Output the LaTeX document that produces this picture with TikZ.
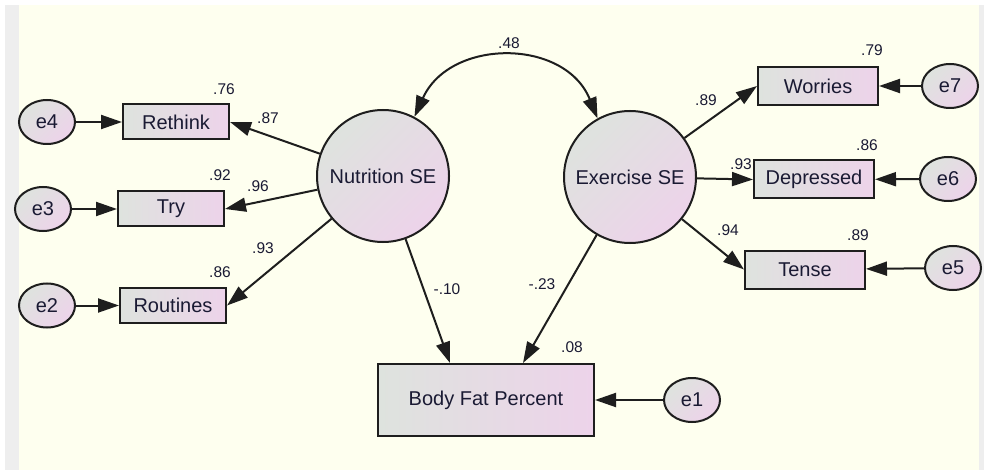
\documentclass[tikz,border=0pt]{standalone}
\usepackage{fontspec}
\setmainfont{Liberation Sans}
\usetikzlibrary{arrows.meta,shapes.geometric}

\definecolor{canvas}{HTML}{FEFFEF}
\definecolor{rim}{HTML}{EEEEEE}
\definecolor{shadeA}{HTML}{DEE3DE}
\definecolor{shadeB}{HTML}{EDD3EA}
\definecolor{ink}{HTML}{1A1A33}
\definecolor{edge}{HTML}{1E1E1E}

\tikzset{
  nodefont/.style={font=\fontsize{20}{24}\selectfont, text=ink},
  obs/.style={rectangle, draw=edge, line width=2pt, left color=shadeA,
    right color=shadeB, inner sep=0pt, nodefont},
  lat/.style={circle, draw=edge, line width=2pt, top color=shadeA,
    bottom color=shadeB, shading angle=45, minimum size=132pt,
    inner sep=0pt, nodefont},
  err/.style={ellipse, draw=edge, line width=2pt, top color=shadeA,
    bottom color=shadeB, shading angle=45, minimum width=56pt,
    minimum height=44pt, inner sep=0pt, nodefont},
  coef/.style={font=\fontsize{15.5}{18}\selectfont, text=ink, inner sep=0pt},
  tip/.tip={Triangle[length=21pt,width=14pt]},
  regr/.style={line width=2pt, draw=edge, -tip},
}

\begin{document}
\begin{tikzpicture}[x=1pt,y=-1pt]
  % page frame
  \fill[white] (0,0) rectangle (984,470);
  \fill[rim] (5,5) rectangle (19,470);
  \fill[rim] (979,5) rectangle (984,470);
  \fill[canvas] (19,5) rectangle (979,470);
  \useasboundingbox (0,0) rectangle (984,470);

  % latent factors
  \node[lat] (nut) at (383,176) {Nutrition SE};
  \node[lat] (exe) at (630,177) {Exercise SE};

  % indicators
  \node[obs, minimum width=106pt, minimum height=35pt] (reth) at (176,122) {Rethink};
  \node[obs, minimum width=106pt, minimum height=35pt] (try) at (171,209) {Try};
  \node[obs, minimum width=106pt, minimum height=35pt] (rout) at (173,305.5) {Routines};
  \node[obs, minimum width=120pt, minimum height=38pt] (worr) at (818,86) {Worries};
  \node[obs, minimum width=120pt, minimum height=38pt] (dep) at (814,179.5) {Depressed};
  \node[obs, minimum width=120pt, minimum height=38pt] (tense) at (805,269.5) {Tense};

  % outcome
  \node[obs, minimum width=216pt, minimum height=72pt] (bfp) at (486,400) {Body Fat Percent};

  % error terms
  \node[err] (e4) at (47,122) {e4};
  \node[err] (e3) at (43,209) {e3};
  \node[err] (e2) at (47,305.5) {e2};
  \node[err] (e7) at (950,86) {e7};
  \node[err] (e6) at (948,179) {e6};
  \node[err] (e5) at (953,268) {e5};
  \node[err] (e1) at (692,400) {e1};

  % loadings
  \draw[regr] (nut) -- (reth.east);
  \draw[regr] (nut) -- (try.east);
  \draw[regr] (nut) -- (rout.east);
  \draw[regr] (exe) -- (worr.west);
  \draw[regr] (exe) -- (dep.west);
  \draw[regr] (exe) -- (tense.west);

  % structural paths
  \draw[regr] (nut) -- ([xshift=-36pt]bfp.north);
  \draw[regr] (exe) -- ([xshift=37pt]bfp.north);

  % residuals
  \draw[regr] (e4) -- (reth);
  \draw[regr] (e3) -- (try);
  \draw[regr] (e2) -- (rout);
  \draw[regr] (e7) -- (worr);
  \draw[regr] (e6) -- (dep);
  \draw[regr] (e5) -- (tense);
  \draw[regr] (e1) -- (bfp);

  % factor covariance
  \draw[line width=2pt, draw=edge, tip-tip]
    (nut.62) .. controls (450,38) and (565,38) .. (exe.119);

  % estimates
  \node[coef] (c48) at (509,43) {.48};
  \node[coef] (c76) at (224,89) {.76};
  \node[coef] (c87) at (268,118) {.87};
  \node[coef] (c92) at (220,175) {.92};
  \node[coef] (c96) at (258,186) {.96};
  \node[coef] (c93a) at (263,248) {.93};
  \node[coef] (c86a) at (220,272) {.86};
  \node[coef] (c79) at (872,50) {.79};
  \node[coef] (c89a) at (706,100) {.89};
  \node[coef] (c86b) at (867,145) {.86};
  \node[coef] (c93b) at (741,164) {.93};
  \node[coef] (c94) at (728,230) {.94};
  \node[coef] (c89b) at (858,235) {.89};
  \node[coef] (c08) at (572,347) {.08};
  \node[coef] (c10) at (447,289) {-.10};
  \node[coef] (c23) at (542,284) {-.23};
\end{tikzpicture}
\end{document}
